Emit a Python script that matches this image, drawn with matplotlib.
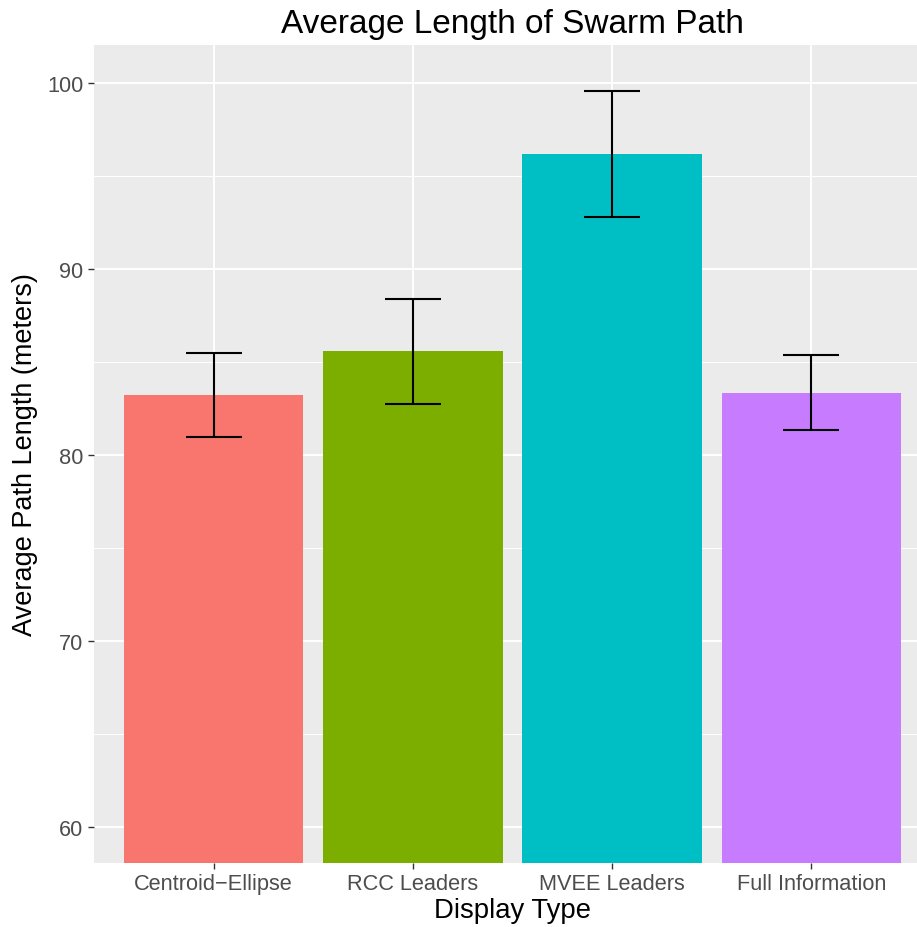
import matplotlib
matplotlib.use("Agg")
import matplotlib.pyplot as plt
from matplotlib.ticker import MultipleLocator

plt.rcParams['font.family'] = ['Liberation Sans', 'DejaVu Sans']

categories = ["Centroid\u2212Ellipse", "RCC Leaders", "MVEE Leaders", "Full Information"]
means = [83.23, 85.59, 96.18, 83.36]
err_low = [80.97, 82.74, 92.81, 81.32]
err_high = [85.48, 88.39, 99.55, 85.38]
colors = ["#F8766D", "#7CAE00", "#00BFC4", "#C77CFF"]
yticks = [60, 70, 80, 90, 100]

fig = plt.figure(figsize=(9.17, 9.28), dpi=100)
ax = fig.add_axes([94/917, 1-864/928, (931-94)/917, (864-46)/928])
ax.set_facecolor("#EBEBEB")

x = list(range(1, len(categories)+1))
ax.bar(x, means, width=0.9, color=colors, zorder=2)
lower = [m - l for m, l in zip(means, err_low)]
upper = [h - m for m, h in zip(means, err_high)]
ax.errorbar(x, means, yerr=[lower, upper], fmt='none', ecolor='black',
            elinewidth=1.5, capsize=20, capthick=1.5, zorder=3)

ax.set_xlim(0.4, 4.6)
ax.set_ylim(58.06, 102.05)
ax.set_xticks(x)
ax.set_xticklabels(categories)
ax.set_yticks(yticks)
ax.yaxis.set_minor_locator(MultipleLocator(5))
ax.grid(which='major', color='white', linewidth=1.4, zorder=0)
ax.grid(which='minor', axis='y', color='white', linewidth=0.7, zorder=0)
ax.set_axisbelow(True)
for s in ax.spines.values():
    s.set_visible(False)
ax.tick_params(axis='both', which='major', colors='#333333', labelcolor='#4D4D4D',
               labelsize=15.7, length=4, width=1)
ax.tick_params(which='minor', length=0)

ax.set_xlabel("Display Type", fontsize=19.8, color='black', labelpad=2)
ax.set_ylabel("Average Path Length (meters)", fontsize=19.5, color='black', labelpad=7)
ax.set_title("Average Length of Swarm Path", fontsize=24, color='black', pad=9)

fig.savefig("out.png", dpi=100, facecolor='white')
